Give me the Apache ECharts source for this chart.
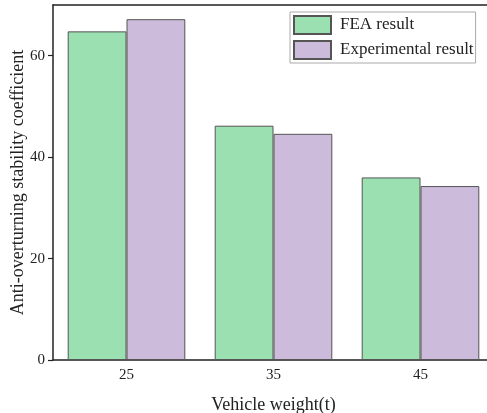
<!DOCTYPE html>
<html><head><meta charset="utf-8">
<script src="https://cdn.jsdelivr.net/npm/echarts@6/dist/echarts.min.js"></script>
<style>html,body{margin:0;padding:0;background:#fff;overflow:hidden}#wrap{width:487px;height:413px;overflow:hidden}#c{width:500px;height:413px}</style>
</head><body><div id="wrap"><div id="c"></div></div>
<script>
const categories = ['25', '35', '45'];
const feaValues = [64.8, 46.2, 36.0];
const expValues = [67.2, 44.6, 34.3];
const yTicks = [0, 20, 40, 60];

const font = '"Liberation Serif", "Times New Roman", serif';
const chart = echarts.init(document.getElementById('c'));
chart.setOption({
  animation: false,
  textStyle: { fontFamily: font },
  grid: { left: 53, top: 5, width: 441, height: 355, containLabel: false, outerBoundsMode: 'none' },
  legend: {
    orient: 'vertical', left: 290, top: 12,
    icon: 'rect',
    itemWidth: 37, itemHeight: 18, itemGap: 5,
    borderColor: '#aaa', borderWidth: 1, padding: [3, 2, 3, 3],
    textStyle: { fontFamily: font, fontSize: 17, color: '#222', padding: [0, 0, 0, 4] },
    data: ['FEA result', 'Experimental result']
  },
  xAxis: [{
    type: 'category', data: categories,
    name: 'Vehicle weight(t)', nameLocation: 'middle', nameGap: 36, nameMoveOverlap: false,
    nameTextStyle: { fontFamily: font, fontSize: 18, color: '#222' },
    axisLine: { lineStyle: { color: '#222', width: 1.5 } },
    axisTick: { show: false },
    axisLabel: { fontFamily: font, fontSize: 15, color: '#222', margin: 8 }
  }, {
    type: 'category', data: categories, position: 'top',
    axisLine: { show: true, lineStyle: { color: '#222', width: 1.5 } },
    axisTick: { show: false }, axisLabel: { show: false }
  }],
  yAxis: {
    type: 'value', min: 0, max: 70, interval: 20,
    name: 'Anti-overturning stability coefficient', nameLocation: 'middle', nameGap: 26, nameMoveOverlap: false,
    nameTextStyle: { fontFamily: font, fontSize: 18, color: '#222' },
    axisLine: { show: true, lineStyle: { color: '#222', width: 1.5 } },
    axisTick: { show: true, inside: false, length: 5, customValues: yTicks, lineStyle: { color: '#222', width: 1.2 } },
    axisLabel: { fontFamily: font, fontSize: 15, color: '#222', margin: 8, customValues: yTicks },
    splitLine: { show: false }
  },
  series: [{
    name: 'FEA result', type: 'bar', data: feaValues,
    barGap: '0%', barCategoryGap: '20%',
    itemStyle: { color: '#9be0b0', borderColor: '#555', borderWidth: 1 }
  }, {
    name: 'Experimental result', type: 'bar', data: expValues,
    barGap: '0%', barCategoryGap: '20%',
    itemStyle: { color: '#cdbbdb', borderColor: '#555', borderWidth: 1 }
  }]
});
</script></body></html>
